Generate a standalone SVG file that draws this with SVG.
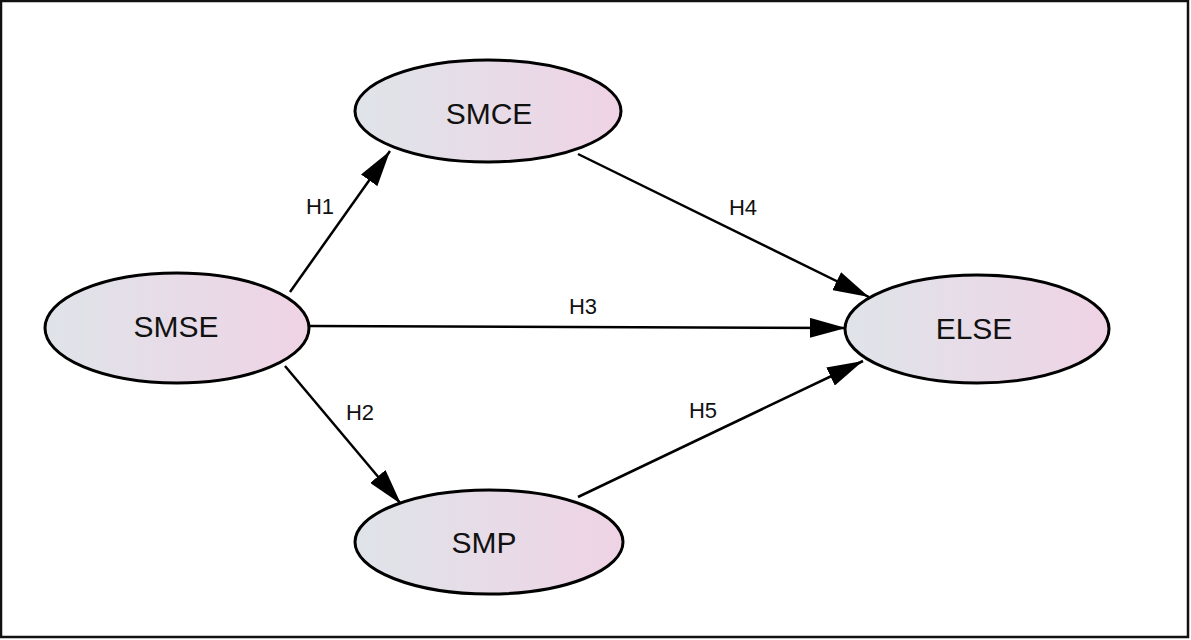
<svg xmlns="http://www.w3.org/2000/svg" width="1191" height="640" viewBox="0 0 1191 640">
<defs>
<linearGradient id="g" x1="0" y1="0" x2="1" y2="0">
<stop offset="0" stop-color="#dfe4e9"/>
<stop offset="1" stop-color="#efd3e5"/>
</linearGradient>
<marker id="ah" viewBox="0 0 36 20" refX="36" refY="10" markerWidth="36" markerHeight="20" markerUnits="userSpaceOnUse" orient="auto">
<path d="M0,0 L36,10 L0,20 Z" fill="#000"/>
</marker>
<style>
.node ellipse{fill:url(#g);stroke:#000;stroke-width:3}
.node text{font-family:"Liberation Sans",Arial,sans-serif;font-size:30px;fill:#111;text-anchor:middle;dominant-baseline:central}
.lbl{font-family:"Liberation Sans",Arial,sans-serif;font-size:22px;fill:#111;text-anchor:middle;dominant-baseline:central}
#edges line{stroke:#000;stroke-width:2.5;marker-end:url(#ah)}
</style>
</defs>
<rect x="0" y="0" width="1191" height="640" fill="#fff"/>
<rect x="1" y="1" width="1187" height="636" fill="none" stroke="#111" stroke-width="2.5"/>
<g id="edges">
<line x1="290" y1="292" x2="390" y2="151"/>
<line x1="285" y1="366" x2="401" y2="504"/>
<line x1="310" y1="326" x2="846" y2="328"/>
<line x1="578" y1="154" x2="869" y2="297"/>
<line x1="578" y1="497" x2="863" y2="361"/>
<text class="lbl" x="320" y="206">H1</text>
<text class="lbl" x="360" y="412">H2</text>
<text class="lbl" x="583" y="306">H3</text>
<text class="lbl" x="743" y="207">H4</text>
<text class="lbl" x="703" y="410">H5</text>
</g>
<g id="SMCE" class="node"><ellipse cx="488" cy="111" rx="133" ry="51"/><text x="489" y="113">SMCE</text></g>
<g id="SMSE" class="node"><ellipse cx="177" cy="328" rx="132" ry="55"/><text x="176" y="326">SMSE</text></g>
<g id="ELSE" class="node"><ellipse cx="977" cy="329" rx="132" ry="54"/><text x="974" y="328">ELSE</text></g>
<g id="SMP" class="node"><ellipse cx="489" cy="542" rx="134" ry="52"/><text x="484" y="542">SMP</text></g>
</svg>
